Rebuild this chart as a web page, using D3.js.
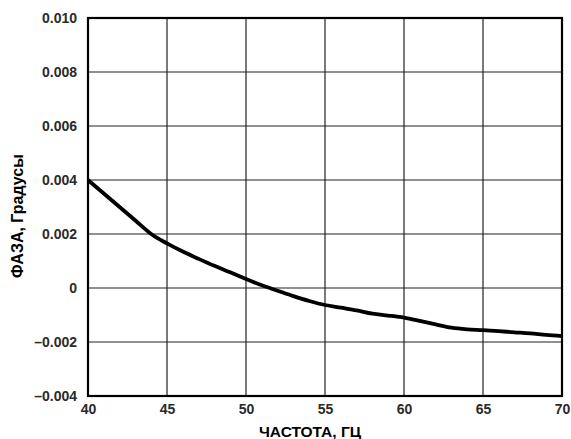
<!DOCTYPE html>
<html>
<head>
<meta charset="utf-8">
<script src="https://cdn.jsdelivr.net/npm/d3@7"></script>
<style>
  body { margin: 0; background: #fff; }
  text { font-family: "Liberation Sans", Arial, sans-serif; }
</style>
</head>
<body>
<svg id="chart"></svg>
<script>
// данные кривой: частота (Гц) и фаза (градусы)
var freq = [40, 41, 42, 43, 44, 45, 46, 47, 48, 49, 50, 51, 52, 53, 54, 55,
            56, 57, 58, 59, 60, 61, 62, 63, 64, 65, 66, 67, 68, 69, 70];
var phase = [0.0040, 0.0035, 0.0030, 0.0025, 0.0020, 0.00165, 0.00135, 0.00108,
             0.00082, 0.00058, 0.00033, 0.00010, -0.00010, -0.00030, -0.00048, -0.00063,
             -0.00073, -0.00083, -0.00095, -0.00102, -0.00110, -0.00122, -0.00135, -0.00147,
             -0.00153, -0.00156, -0.00160, -0.00164, -0.00168, -0.00174, -0.00178];
var xTicks = [40, 45, 50, 55, 60, 65, 70];
var yTicks = [-0.004, -0.002, 0, 0.002, 0.004, 0.006, 0.008, 0.010];

var width = 571, height = 439;
var margin = { left: 88, right: 9, top: 18, bottom: 43 };

var svg = d3.select("#chart")
    .attr("width", width)
    .attr("height", height);

var x = d3.scaleLinear().domain([40, 70]).range([margin.left, width - margin.right]);
var y = d3.scaleLinear().domain([-0.004, 0.010]).range([height - margin.bottom, margin.top]);

// сетка
svg.append("g")
    .selectAll("line")
    .data(xTicks)
    .enter().append("line")
    .attr("x1", function(d) { return x(d); })
    .attr("x2", function(d) { return x(d); })
    .attr("y1", y(0.010))
    .attr("y2", y(-0.004))
    .attr("stroke", "#222")
    .attr("stroke-width", 1.2);

svg.append("g")
    .selectAll("line")
    .data(yTicks)
    .enter().append("line")
    .attr("x1", x(40))
    .attr("x2", x(70))
    .attr("y1", function(d) { return y(d); })
    .attr("y2", function(d) { return y(d); })
    .attr("stroke", "#222")
    .attr("stroke-width", 1.2);

// оси с подписями
var fmtY = function(d) {
    if (d === 0) return "0";
    return (d < 0 ? "\u2013" : "") + Math.abs(d).toFixed(3);
};

var xAxis = svg.append("g")
    .attr("transform", "translate(0," + y(-0.004) + ")")
    .call(d3.axisBottom(x).tickValues(xTicks).tickSize(0).tickPadding(8));
var yAxis = svg.append("g")
    .attr("transform", "translate(" + x(40) + ",0)")
    .call(d3.axisLeft(y).tickValues(yTicks).tickFormat(fmtY).tickSize(0).tickPadding(11));

[xAxis, yAxis].forEach(function(a) {
    a.select(".domain").remove();
    a.selectAll("text")
        .style("font-size", "14px")
        .style("font-weight", "bold")
        .attr("fill", "#2a2a2a");
});

// рамка
svg.append("rect")
    .attr("x", x(40))
    .attr("y", y(0.010))
    .attr("width", x(70) - x(40))
    .attr("height", y(-0.004) - y(0.010))
    .attr("fill", "none")
    .attr("stroke", "#000")
    .attr("stroke-width", 2.2);

// кривая
var line = d3.line()
    .x(function(d, i) { return x(freq[i]); })
    .y(function(d) { return y(d); })
    .curve(d3.curveMonotoneX);

svg.append("path")
    .datum(phase)
    .attr("d", line)
    .attr("fill", "none")
    .attr("stroke", "#000")
    .attr("stroke-width", 3.8);

// заголовки осей
svg.append("text")
    .attr("x", 310)
    .attr("y", 437)
    .attr("text-anchor", "middle")
    .style("font-size", "15.5px")
    .style("font-weight", "bold")
    .text("ЧАСТОТА, ГЦ");

svg.append("text")
    .attr("transform", "translate(23,216) rotate(-90)")
    .attr("text-anchor", "middle")
    .style("font-size", "16px")
    .style("font-weight", "bold")
    .text("ФАЗА, Градусы");
</script>
</body>
</html>
